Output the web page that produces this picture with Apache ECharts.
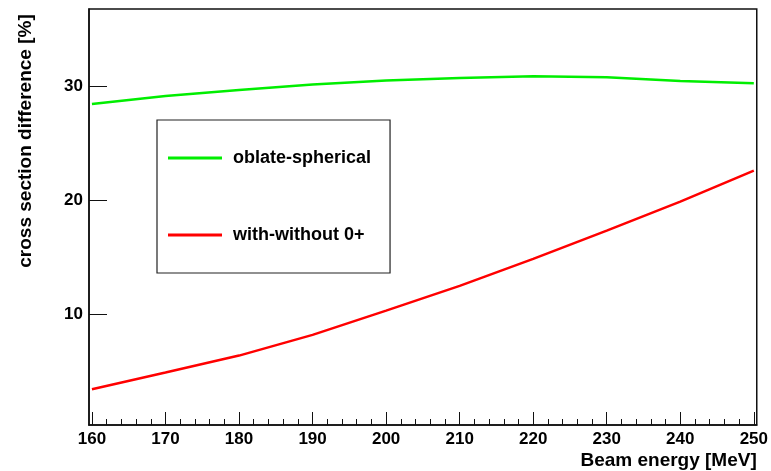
<!DOCTYPE html>
<html>
<head>
<meta charset="utf-8">
<script src="https://cdn.jsdelivr.net/npm/echarts@6/dist/echarts.min.js"></script>
<style>
html,body{margin:0;padding:0;background:#fff;}
#chart{width:771px;height:471px;}
</style>
</head>
<body>
<div id="chart"></div>
<script>
var energies = [160, 165, 170, 180, 190, 200, 210, 220, 230, 240, 250];
var oblateSpherical = [28.42, 28.77, 29.12, 29.65, 30.12, 30.47, 30.70, 30.85, 30.76, 30.44, 30.23];
var redEnergies = [160, 170, 180, 190, 200, 210, 220, 230, 240, 250];
var withWithout = [3.39, 4.85, 6.34, 8.16, 10.29, 12.46, 14.82, 17.31, 19.85, 22.57];
var xMajorTicks = [160, 170, 180, 190, 200, 210, 220, 230, 240, 250];
var xMinorTicks = [];
for (var t = 162; t < 250; t += 2) { if (t % 10 !== 0) xMinorTicks.push(t); }
var yTicks = [10, 20, 30];
var seriesNames = ['oblate-spherical', 'with-without 0+'];

function pairs(xs, ys) { return xs.map(function (x, i) { return [x, ys[i]]; }); }

var chart = echarts.init(document.getElementById('chart'), null, {renderer: 'canvas'});
var font = 'Liberation Sans, Arial, Helvetica, sans-serif';
chart.setOption({
  animation: false,
  backgroundColor: '#ffffff',
  grid: {left: 89, right: 14, top: 9, bottom: 46, show: true, borderColor: '#111', borderWidth: 1.5, backgroundColor: 'transparent'},
  legend: {
    orient: 'vertical', left: 157, top: 120,
    padding: [29, 19, 29, 11],
    icon: 'rect',
    itemWidth: 54, itemHeight: 3, itemGap: 59,
    borderColor: '#222', borderWidth: 1.2,
    selectedMode: false,
    data: seriesNames,
    textStyle: {fontFamily: font, fontWeight: 'bold', fontSize: 18, lineHeight: 16, color: '#000', padding: [0, 0, 0, 6]}
  },
  xAxis: [{
    type: 'value', min: 159.6, max: 250.4, position: 'bottom',
    axisLine: {show: true, onZero: false, lineStyle: {color: '#111', width: 1.5}},
    splitLine: {show: false},
    axisTick: {show: true, inside: true, length: 13, customValues: xMajorTicks, lineStyle: {color: '#111', width: 1}},
    axisLabel: {customValues: xMajorTicks, margin: 6, fontFamily: font, fontWeight: 'bold', fontSize: 17, color: '#000'},
    name: 'Beam energy [MeV]', nameLocation: 'end', nameGap: 0,
    nameTextStyle: {fontFamily: font, fontWeight: 'bold', fontSize: 19, color: '#000', align: 'right', verticalAlign: 'top', padding: [26, 0, 0, 0]}
  }, {
    type: 'value', min: 159.6, max: 250.4, position: 'bottom',
    axisLine: {show: false, onZero: false},
    splitLine: {show: false},
    axisTick: {show: true, inside: true, length: 6, customValues: xMinorTicks, lineStyle: {color: '#111', width: 1}},
    axisLabel: {show: false}
  }],
  yAxis: {
    type: 'value', min: 0.25, max: 36.75,
    axisLine: {show: true, onZero: false, lineStyle: {color: '#111', width: 1.5}},
    splitLine: {show: false},
    axisTick: {show: true, inside: true, length: 18, customValues: yTicks, lineStyle: {color: '#111', width: 1}},
    axisLabel: {customValues: yTicks, margin: 6, fontFamily: font, fontWeight: 'bold', fontSize: 17, color: '#000'}
  },
  graphic: [{
    type: 'text', x: 26, y: 141, rotation: Math.PI / 2,
    style: {text: 'cross section difference [%]', font: 'bold 19px ' + font, fill: '#000', textAlign: 'center', textVerticalAlign: 'middle'}
  }],
  series: [{
    name: seriesNames[0], type: 'line', xAxisIndex: 0, symbol: 'none', smooth: false,
    lineStyle: {color: '#00ee00', width: 2.5}, itemStyle: {color: '#00ee00'},
    data: pairs(energies, oblateSpherical)
  }, {
    name: seriesNames[1], type: 'line', xAxisIndex: 0, symbol: 'none', smooth: false,
    lineStyle: {color: '#ff0000', width: 2.5}, itemStyle: {color: '#ff0000'},
    data: pairs(redEnergies, withWithout)
  }]
});
</script>
</body>
</html>
